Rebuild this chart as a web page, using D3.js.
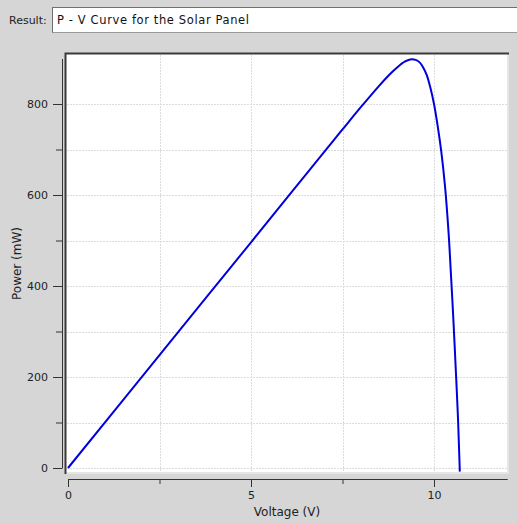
<!DOCTYPE html>
<html><head><meta charset="utf-8">
<script src="https://cdn.jsdelivr.net/npm/d3@7/dist/d3.min.js"></script>
<style>
body{margin:0;background:#d6d6d6;}
svg{display:block;font-family:"DejaVu Sans",sans-serif;}
</style>
</head><body>
<svg id="c" width="517" height="523"></svg>
<script>
// ---- data ----
const voltage = [0, 2.5, 5, 7.5, 8.0, 8.5, 8.8, 9.0, 9.2, 9.35, 9.5, 9.6, 9.7, 9.8, 9.9, 10.0, 10.1, 10.2, 10.3, 10.4, 10.46, 10.53, 10.59, 10.65, 10.69, 10.705];
const power   = [0, 248, 496, 744, 793, 840, 866, 881, 893, 898, 897, 892, 881, 864, 836, 800, 752, 695, 620, 515, 430, 325, 225, 120, 30, -8];
const xTicks = [0, 2.5, 5, 7.5, 10];
const xTickLabels = ["0", "", "5", "", "10"];
const yTicks = [0, 100, 200, 300, 400, 500, 600, 700, 800];
const yTickLabels = ["0", "", "200", "", "400", "", "600", "", "800"];
const resultLabel = "Result:";
const resultText = "P - V Curve for the Solar Panel";
const xTitle = "Voltage (V)";
const yTitle = "Power (mW)";

const svg = d3.select("#c");

// result field
svg.append("text").attr("x", 9).attr("y", 24).attr("font-size", 11).attr("fill", "#222").text(resultLabel);
svg.append("rect").attr("x", 52.5).attr("y", 7.5).attr("width", 480).attr("height", 25)
  .attr("fill", "#fff").attr("stroke", "#9a9a9a");
svg.append("path").attr("d", "M52.5,32.5V7.5H532").attr("fill", "none").attr("stroke", "#707070");
svg.append("text").attr("x", 57).attr("y", 24).attr("font-size", 11.5).attr("fill", "#111")
  .attr("textLength", 192).attr("lengthAdjust", "spacing").text(resultText);

// scales
const x = d3.scaleLinear().domain([0, 12]).range([68, 507.2]);
const y = d3.scaleLinear().domain([0, 900]).range([468, 58.5]);

// plot panel
const pL = 65, pT = 53, pR = 509, pB = 474;
svg.append("rect").attr("x", pL).attr("y", pT).attr("width", pR - pL).attr("height", pB - pT).attr("fill", "#e6e6e6");
svg.append("rect").attr("x", pL + 1).attr("y", pT + 1).attr("width", pR - pL - 3).attr("height", pB - pT - 3).attr("fill", "#fff");
svg.append("path").attr("d", `M${pL+0.5},${pB}V${pT+0.5}H${pR}`).attr("fill", "none").attr("stroke", "#3a3a3a").attr("stroke-width", 2);

// grid
const grid = svg.append("g").attr("stroke", "#dcdcdc").attr("stroke-dasharray", "2,1").attr("stroke-width", 1);
grid.selectAll("line.v").data(xTicks.filter(d => d > 0)).join("line")
  .attr("x1", d => Math.round(x(d)) + 0.5).attr("x2", d => Math.round(x(d)) + 0.5)
  .attr("y1", pT + 2).attr("y2", pB - 2);
grid.selectAll("line.h").data(yTicks).join("line")
  .attr("y1", d => Math.round(y(d)) + 0.5).attr("y2", d => Math.round(y(d)) + 0.5)
  .attr("x1", pL + 2).attr("x2", pR - 2);

// curve
const line = d3.line().x((d, i) => x(voltage[i])).y((d, i) => y(power[i])).curve(d3.curveCatmullRom.alpha(0.5));
svg.append("path").datum(power).attr("d", line).attr("fill", "none")
  .attr("stroke", "#0000dc").attr("stroke-width", 2).attr("stroke-linejoin", "round");

// y axis
const yAxis = d3.axisLeft(y).tickValues(yTicks).tickSizeOuter(0)
  .tickFormat((d, i) => yTickLabels[i]).tickPadding(4);
const gy = svg.append("g").attr("transform", "translate(62,0)").call(yAxis);
gy.select(".domain").attr("stroke", "#333");
gy.selectAll(".tick line").attr("stroke", "#333").attr("x2", (d, i) => yTickLabels[i] ? -9 : -6);
gy.selectAll(".tick text").attr("x", -14).attr("font-size", 11).attr("font-family", "DejaVu Sans").attr("fill", "#222");

// x axis
const xAxis = d3.axisBottom(x).tickValues(xTicks).tickSizeOuter(0)
  .tickFormat((d, i) => xTickLabels[i]);
const gx = svg.append("g").attr("transform", "translate(0,479)").call(xAxis);
gx.select(".domain").attr("stroke", "#333");
gx.selectAll(".tick line").attr("stroke", "#333").attr("y2", (d, i) => xTickLabels[i] ? 8 : 5);
gx.selectAll(".tick text").attr("y", 12).attr("font-size", 11).attr("font-family", "DejaVu Sans").attr("fill", "#222");

// titles
svg.append("text").attr("x", (pL + pR) / 2).attr("y", 516).attr("text-anchor", "middle")
  .attr("font-size", 12).attr("fill", "#222").text(xTitle);
svg.append("text").attr("transform", `translate(21,${(pT + pB) / 2}) rotate(-90)`).attr("text-anchor", "middle")
  .attr("font-size", 12).attr("fill", "#222").text(yTitle);
</script>
</body></html>
